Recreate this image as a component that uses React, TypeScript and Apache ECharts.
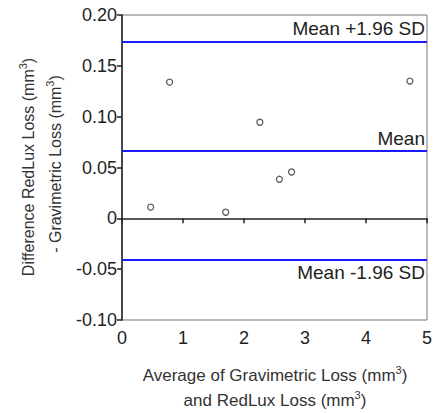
import React, { useEffect, useRef } from "react";
import * as echarts from "echarts";

const avgValues = [0.47, 0.78, 1.7, 2.26, 2.58, 2.78, 4.72];
const diffValues = [0.011, 0.134, 0.006, 0.0945, 0.0384, 0.0456, 0.135];
const limitValues = [0.174, 0.0665, -0.041];
const limitLabels = ["Mean +1.96 SD", "Mean", "Mean -1.96 SD"];
const xTicks = { min: 0, max: 5, interval: 1 };
const yTicks = { min: -0.1, max: 0.2, interval: 0.05 };

const FONT = "Arial, 'Liberation Sans', sans-serif";

export default function App() {
  const ref = useRef<HTMLDivElement>(null);
  useEffect(() => {
    if (!ref.current) return;
    const chart = echarts.init(ref.current, undefined, { renderer: "svg" });
    const mkRich = (fs: number) => ({
      a: { fontSize: fs, fontFamily: FONT, color: "#333", lineHeight: 22 },
      s: { fontSize: 11, fontFamily: FONT, color: "#333", lineHeight: 22, verticalAlign: "top" },
    });
    const titleText = (x: number, y: number, text: string, fs: number, rotation = 0) => ({
      type: "text",
      x,
      y,
      rotation,
      style: {
        text,
        rich: mkRich(fs),
        align: "center",
        verticalAlign: "middle",
        font: `${fs}px ${FONT}`,
        fill: "#333",
      },
    });
    const option: any = {
      animation: false,
      backgroundColor: "#fff",
      grid: {
        left: 122,
        right: 7,
        top: 15,
        bottom: 93,
        show: true,
        borderColor: "#777",
        borderWidth: 1,
      },
      xAxis: {
        type: "value",
        min: xTicks.min,
        max: xTicks.max,
        interval: xTicks.interval,
        splitLine: { show: false },
        axisLine: { lineStyle: { color: "#222", width: 1.5 } },
        axisTick: { show: true, inside: false, length: 5, lineStyle: { color: "#222", width: 1.5 } },
        axisLabel: { color: "#222", fontSize: 18, fontFamily: FONT, margin: 9 },
      },
      yAxis: {
        type: "value",
        min: yTicks.min,
        max: yTicks.max,
        interval: yTicks.interval,
        splitLine: { show: false },
        axisLine: { lineStyle: { color: "#222", width: 1.5 } },
        axisTick: { show: true, inside: false, length: 5, lineStyle: { color: "#222", width: 1.5 } },
        axisLabel: {
          color: "#222",
          fontSize: 18,
          fontFamily: FONT,
          margin: 5,
          formatter: (v: number) => (Math.abs(v) < 1e-9 ? "0" : v.toFixed(2)),
        },
      },
      series: [
        {
          type: "scatter",
          data: avgValues.map((x, i) => [x, diffValues[i]]),
          symbol: "circle",
          symbolSize: 6,
          itemStyle: { color: "#fff", borderColor: "#333", borderWidth: 1.3 },
          z: 5,
          markLine: {
            silent: true,
            symbol: "none",
            precision: 5,
            lineStyle: { color: "#1a1aff", width: 2.2, type: "solid" },
            data: limitValues.map((v, i) => ({
              yAxis: v,
              label: {
                show: true,
                formatter: limitLabels[i],
                position: i === 2 ? "insideEndBottom" : "insideEndTop",
                color: "#222",
                fontSize: 19,
                fontFamily: FONT,
                distance: [2, 3],
              },
            })),
          },
        },
      ],
      graphic: [
        titleText(275, 375, "{a|Average of Gravimetric Loss (mm}{s|3}{a|)}", 17),
        titleText(275, 400, "{a|and RedLux Loss (mm}{s|3}{a|)}", 17),
        titleText(28, 167, "{a|Difference RedLux Loss (mm}{s|3}{a|)}", 16, Math.PI / 2),
        titleText(55, 164, "{a|- Gravimetric Loss (mm}{s|3}{a|)}", 16, Math.PI / 2),
      ],
    };
    chart.setOption(option);
    return () => chart.dispose();
  }, []);
  return (
    <div
      ref={ref}
      style={{ position: "absolute", left: 0, top: 0, width: 435, height: 413 }}
    />
  );
}
